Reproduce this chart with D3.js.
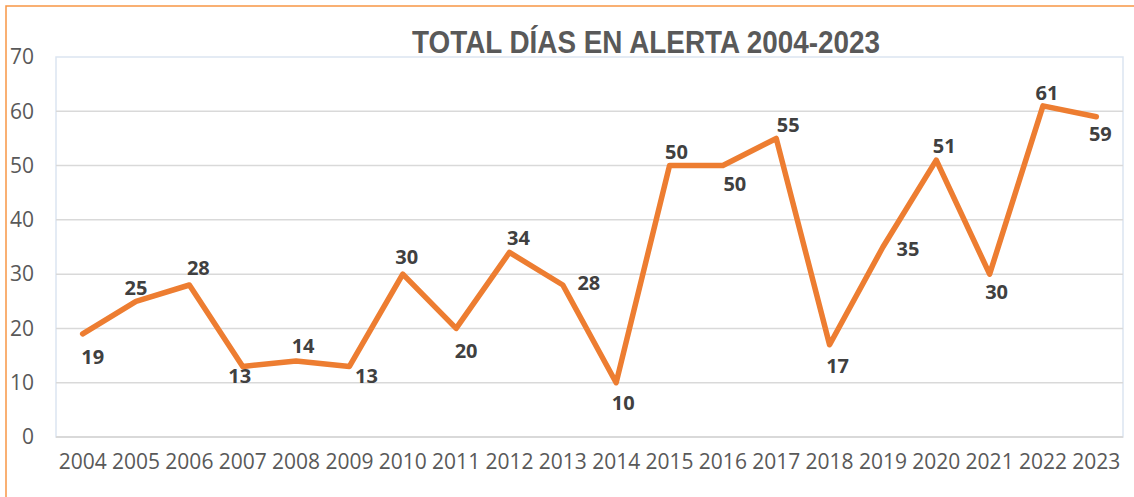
<!DOCTYPE html>
<html>
<head>
<meta charset="utf-8">
<script src="https://cdn.jsdelivr.net/npm/d3@7"></script>
<style>
  body { margin: 0; background: #fff; }
  svg { display: block; }
</style>
</head>
<body>
<div id="chart"></div>
<script>
// data
var years = ["2004","2005","2006","2007","2008","2009","2010","2011","2012","2013",
             "2014","2015","2016","2017","2018","2019","2020","2021","2022","2023"];
var dias = [19, 25, 28, 13, 14, 13, 30, 20, 34, 28, 10, 50, 50, 55, 17, 35, 51, 30, 61, 59];
var yTicks = [0, 10, 20, 30, 40, 50, 60, 70];
var chartTitle = "TOTAL DÍAS EN ALERTA 2004-2023";

// where each data label sits relative to its point (dx, dy to label centre)
var labelNudge = [
  [10, 23], [0, -13], [9, -17], [-3, 9], [7, -15], [17, 9], [4, -17], [10, 22], [9, -15], [26, -2],
  [7, 20], [7, -14], [12, 18], [12, -14], [8, 21], [25, 2], [8, -14], [7, 18], [4, -13], [4, 17]
];

var W = 1134, H = 497;
var plot = { left: 56, right: 1123, top: 57, bottom: 437 };

var svg = d3.select("#chart").append("svg")
  .attr("width", W).attr("height", H);

// outer orange frame (only left & top edges show)
svg.append("rect")
  .attr("x", 6).attr("y", 6)
  .attr("width", W + 20).attr("height", H + 20)
  .attr("fill", "none")
  .attr("stroke", "#F79646")
  .attr("stroke-width", 1.5);

var x = d3.scaleBand().domain(years).range([plot.left, plot.right]);
var y = d3.scaleLinear().domain([0, 70]).range([plot.bottom, plot.top]);

// plot area frame
svg.append("rect")
  .attr("x", plot.left).attr("y", plot.top)
  .attr("width", plot.right - plot.left).attr("height", plot.bottom - plot.top)
  .attr("fill", "none")
  .attr("stroke", "#dbe5f1")
  .attr("stroke-width", 1.5);

// gridlines
svg.append("g")
  .selectAll("line")
  .data(yTicks.filter(function(d){ return d > 0 && d < 70; }))
  .enter().append("line")
  .attr("x1", plot.left).attr("x2", plot.right)
  .attr("y1", function(d){ return y(d); })
  .attr("y2", function(d){ return y(d); })
  .attr("stroke", "#d9d9d9")
  .attr("stroke-width", 1.5);

// bottom axis line
svg.append("line")
  .attr("x1", plot.left).attr("x2", plot.right)
  .attr("y1", y(0)).attr("y2", y(0))
  .attr("stroke", "#d9d9d9")
  .attr("stroke-width", 2);

// y axis labels
var yAxis = d3.axisLeft(y).tickValues(yTicks).tickSize(0).tickPadding(0);
var gy = svg.append("g").attr("transform", "translate(34,0)").call(yAxis);
gy.select(".domain").remove();
gy.selectAll("text")
  .attr("font-family", "Open Sans")
  .attr("font-size", "21px")
  .attr("fill", "#595959");

// x axis labels
var xAxis = d3.axisBottom(x).tickSize(0).tickPadding(0);
var gx = svg.append("g").attr("transform", "translate(0,454)").call(xAxis);
gx.select(".domain").remove();
gx.selectAll("text")
  .attr("font-family", "Open Sans")
  .attr("font-size", "21px")
  .attr("fill", "#595959");

// the line
var line = d3.line()
  .x(function(d, i){ return x(years[i]) + x.bandwidth() / 2; })
  .y(function(d){ return y(d); });

svg.append("path")
  .datum(dias)
  .attr("d", line)
  .attr("fill", "none")
  .attr("stroke", "#ED7D31")
  .attr("stroke-width", 5.5)
  .attr("stroke-linejoin", "round")
  .attr("stroke-linecap", "round");

// data labels
svg.append("g")
  .selectAll("text")
  .data(dias)
  .enter().append("text")
  .attr("x", function(d, i){ return x(years[i]) + x.bandwidth() / 2 + labelNudge[i][0]; })
  .attr("y", function(d, i){ return y(d) + labelNudge[i][1]; })
  .attr("dy", "0.36em")
  .attr("text-anchor", "middle")
  .attr("font-family", "Open Sans")
  .attr("font-weight", "bold")
  .attr("font-size", "20px")
  .attr("fill", "#404040")
  .text(function(d){ return d; });

// title
svg.append("text")
  .attr("x", 646).attr("y", 53)
  .attr("text-anchor", "middle")
  .attr("font-family", "Liberation Sans")
  .attr("font-weight", "bold")
  .attr("font-size", "32px")
  .attr("textLength", 468)
  .attr("lengthAdjust", "spacingAndGlyphs")
  .attr("fill", "#595959")
  .text(chartTitle);
</script>
</body>
</html>
